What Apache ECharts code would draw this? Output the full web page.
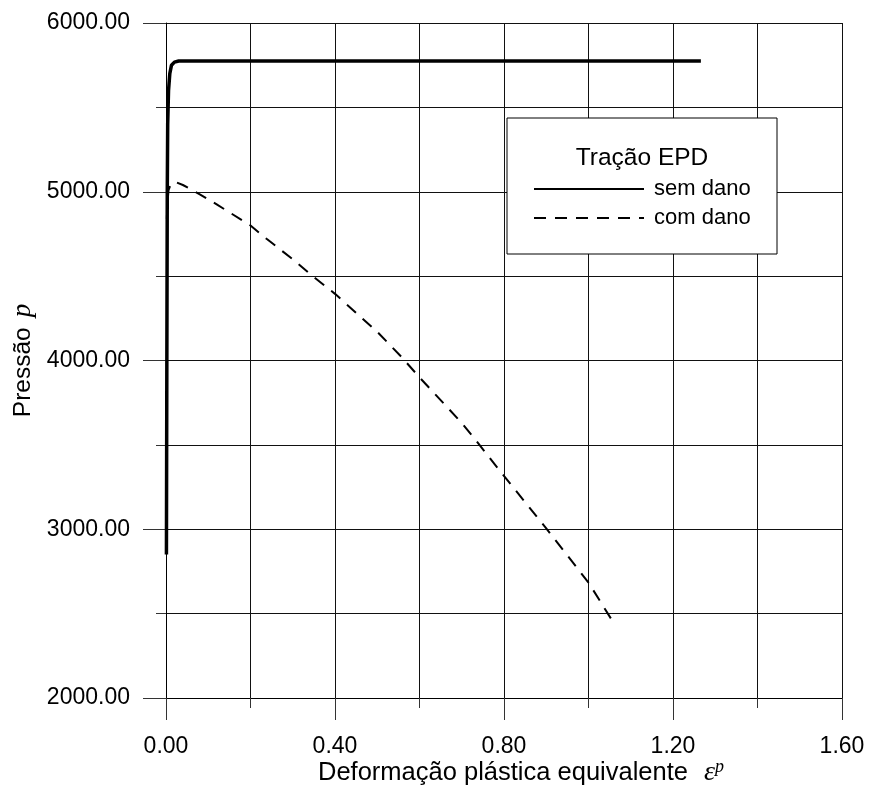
<!DOCTYPE html>
<html>
<head>
<meta charset="utf-8">
<script src="https://cdn.jsdelivr.net/npm/echarts@6/dist/echarts.min.js"></script>
<style>
html,body{margin:0;padding:0;background:#fff;}
#chart{width:869px;height:787px;}
</style>
</head>
<body>
<div id="chart"></div>
<script>
// ---- data ----
const seriesNames = ['sem dano', 'com dano'];
const legendTitle = 'Tração EPD';
const xTicks = [0, 0.4, 0.8, 1.2, 1.6];
const yTicks = [2000, 3000, 4000, 5000, 6000];

const semDanoX = [0.001, 0.002, 0.003, 0.004, 0.006, 0.009, 0.013, 0.02, 0.03, 1.266];
const semDanoY = [2850, 4000, 5000, 5400, 5600, 5700, 5750, 5768, 5775, 5775];

const comDanoX = [0.002, 0.003, 0.006, 0.012, 0.025, 0.04, 0.08, 0.12, 0.2, 0.238, 0.3, 0.345, 0.4, 0.5, 0.558, 0.6, 0.7, 0.731, 0.79, 0.9, 1.0, 1.057];
const comDanoY = [4840, 4920, 5010, 5050, 5055, 5040, 4985, 4925, 4800, 4721, 4600, 4504, 4395, 4170, 4019, 3900, 3630, 3535, 3347, 3005, 2684, 2455];

const pairs = (xs, ys) => xs.map((x, i) => [x, ys[i]]);

const FONT = '"Liberation Sans", Arial, sans-serif';
const SERIF = '"Liberation Serif", "DejaVu Serif", serif';

const chart = echarts.init(document.getElementById('chart'), null, {renderer: 'canvas'});
chart.setOption({
  backgroundColor: '#fff',
  animation: false,
  grid: {left: 166, right: 27, top: 23, bottom: 89, containLabel: false, outerBoundsMode: 'none'},
  xAxis: {
    type: 'value',
    min: xTicks[0], max: xTicks[xTicks.length - 1], interval: xTicks[1] - xTicks[0],
    axisLine: {show: true, onZero: false, lineStyle: {color: '#000', width: 1}},
    axisTick: {show: true, length: 22, lineStyle: {color: '#333', width: 1}},
    minorTick: {show: true, splitNumber: 2, length: 10, lineStyle: {color: '#333', width: 1}},
    splitLine: {show: true, lineStyle: {color: '#111', width: 1}},
    minorSplitLine: {show: true, lineStyle: {color: '#111', width: 1}},
    axisLabel: {margin: 37, fontFamily: FONT, fontSize: 23, color: '#000', formatter: v => v.toFixed(2)},
    name: '{a|Deformação plástica equivalente}{g|}{e|ε}{s|p}',
    nameLocation: 'middle',
    nameMoveOverlap: false,
    nameGap: 60,
    nameTextStyle: {
      padding: [0, 0, 0, 34],
      rich: {
        a: {fontFamily: FONT, fontSize: 25.5, color: '#000', lineHeight: 30},
        g: {width: 16},
        e: {fontFamily: SERIF, fontStyle: 'italic', fontSize: 28, color: '#000', lineHeight: 30},
        s: {fontFamily: SERIF, fontStyle: 'italic', fontSize: 18, color: '#000', verticalAlign: 'top', lineHeight: 30}
      }
    }
  },
  yAxis: {
    type: 'value',
    min: yTicks[0], max: yTicks[yTicks.length - 1], interval: yTicks[1] - yTicks[0],
    axisLine: {show: true, onZero: false, lineStyle: {color: '#000', width: 1}},
    axisTick: {show: true, length: 23, lineStyle: {color: '#333', width: 1}},
    minorTick: {show: true, splitNumber: 2, length: 10, lineStyle: {color: '#333', width: 1}},
    splitLine: {show: true, lineStyle: {color: '#111', width: 1}},
    minorSplitLine: {show: true, lineStyle: {color: '#111', width: 1}},
    axisLabel: {margin: 36, fontFamily: FONT, fontSize: 23, color: '#000', formatter: v => v.toFixed(2)},
    name: '{a|Pressão}{g|}{p|p}',
    nameLocation: 'middle',
    nameMoveOverlap: false,
    nameGap: 129,
    nameTextStyle: {
      rich: {
        a: {fontFamily: FONT, fontSize: 24.5, color: '#000', lineHeight: 28},
        g: {width: 10},
        p: {fontFamily: SERIF, fontStyle: 'italic', fontSize: 27, color: '#000', lineHeight: 28}
      }
    }
  },
  legend: {
    show: true,
    orient: 'vertical',
    left: 533, top: 178,
    padding: 0,
    itemWidth: 110, itemHeight: 22, itemGap: 7,
    z: 10,
    itemStyle: {opacity: 0},
    textStyle: {fontFamily: FONT, fontSize: 22, color: '#000', padding: [0, 0, 0, 5]},
    data: seriesNames,
    selectedMode: false
  },
  graphic: [
    {type: 'rect', x: 507, y: 118, z: 5, shape: {width: 270, height: 136}, style: {fill: '#fff', stroke: '#000', lineWidth: 1}},
    {type: 'text', x: 642, y: 146, z: 6,
      style: {text: legendTitle, fontFamily: FONT, fontSize: 24.5, fill: '#000', align: 'center', verticalAlign: 'top'}}
  ],
  series: [
    {
      name: seriesNames[0], type: 'line', showSymbol: false, symbol: 'none',
      data: pairs(semDanoX, semDanoY),
      lineStyle: {color: '#000', width: 3.5, join: 'round'},
      itemStyle: {color: '#000'}, z: 3
    },
    {
      name: seriesNames[1], type: 'line', showSymbol: false, symbol: 'none',
      data: pairs(comDanoX, comDanoY),
      lineStyle: {color: '#000', width: 2, type: [12, 9]},
      itemStyle: {color: '#000'}, z: 3
    }
  ]
});
</script>
</body>
</html>
